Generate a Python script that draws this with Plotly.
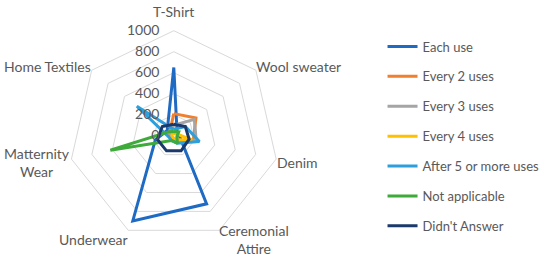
import plotly.graph_objects as go

categories = ["T-Shirt", "Wool sweater", "Denim", "Ceremonial Attire", "Underwear",
              "Matternity Wear", "Home Textiles"]
category_labels = ["T-Shirt", "Wool sweater", "Denim", "Ceremonial<br>Attire", "Underwear",
                   "Matternity<br>Wear", "Home Textiles"]
series_names = ["Each use", "Every 2 uses", "Every 3 uses", "Every 4 uses",
                "After 5 or more uses", "Not applicable", "Didn't Answer"]
each_use = [650, 40, 60, 720, 900, 180, 80]
every_2 = [210, 270, 190, 50, 30, 40, 50]
every_3 = [100, 250, 220, 50, 20, 30, 40]
every_4 = [20, 30, 180, 40, 20, 20, 20]
after_5 = [60, 140, 250, 80, 50, 50, 450]
not_applicable = [40, 60, 30, 80, 50, 620, 60]
didnt_answer = [110, 140, 150, 160, 160, 160, 140]
radial_ticks = [0, 200, 400, 600, 800, 1000]

series_values = [each_use, every_2, every_3, every_4, after_5, not_applicable, didnt_answer]
colors = ["#1F6BC4", "#F07F2E", "#A5A5A5", "#FFC000", "#2E9FDD", "#3DAA3A", "#1B3A6B"]

fig = go.Figure()
for i, (name, vals, col) in enumerate(zip(series_names, series_values, colors)):
    fig.add_trace(go.Scatterpolar(
        r=vals + vals[:1],
        theta=categories + categories[:1],
        mode="lines",
        name=name,
        legendgroup=f"g{i}",
        line=dict(color=col, width=3),
    ))

txt = "#595959"
# category label placement (pixel centres in the 550x258 canvas)
label_pos = [(173, 12), (299, 66), (297, 162), (254, 239), (93, 239), (37, 162), (47, 66)]
for lab, (px, py) in zip(category_labels, label_pos):
    fig.add_annotation(text=lab, x=px / 550, y=1 - py / 258, xref="paper", yref="paper",
                       xanchor="center", yanchor="middle", showarrow=False,
                       font=dict(size=14, color=txt, family="Lato, sans-serif"))

fig.update_layout(
    width=550, height=258,
    margin=dict(l=0, r=0, t=0, b=0),
    paper_bgcolor="white",
    font=dict(family="Lato, Open Sans, sans-serif", color=txt, size=14),
    polar=dict(
        domain=dict(x=[0.125, 0.507], y=[0.067, 0.881]),
        bgcolor="white",
        gridshape="linear",
        angularaxis=dict(
            rotation=90, direction="clockwise",
            showgrid=False, showline=True, linecolor="#D9D9D9", linewidth=1,
            ticks="", showticklabels=False,
        ),
        radialaxis=dict(
            range=[0, 1000], tickvals=radial_ticks, angle=90, tickangle=90,
            side="counterclockwise",
            showline=False, gridcolor="#D9D9D9", gridwidth=1,
            ticks="outside", ticklen=9, tickcolor="rgba(0,0,0,0)",
            tickfont=dict(size=14, color=txt),
        ),
    ),
    legend=dict(
        x=0.6955, y=0.878, xanchor="left", yanchor="top",
        font=dict(size=13, color=txt),
        tracegroupgap=10,
        bgcolor="rgba(0,0,0,0)",
    ),
)

fig.write_html("out.html", config={"displayModeBar": False},
               post_script="document.body.style.margin='0';")
